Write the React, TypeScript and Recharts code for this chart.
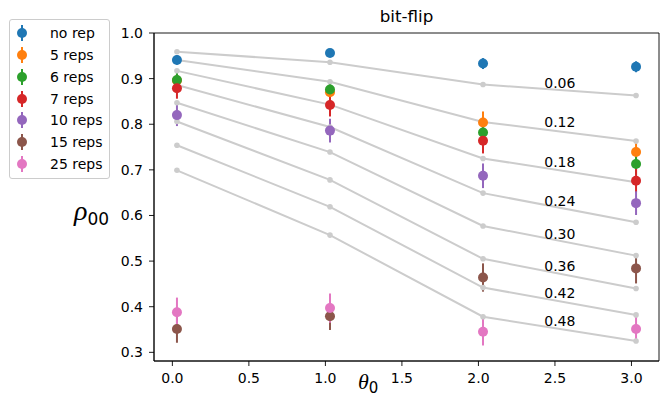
import React from 'react';
import {
    ComposedChart, Scatter, ErrorBar, XAxis, YAxis, ReferenceArea,
} from 'recharts';

// x positions of the measurements (theta_0)
const THETA = [0.03, 1.03, 2.03, 3.03];

// grey reference curves, one per flip probability
const CURVE_LABELS = ['0.06', '0.12', '0.18', '0.24', '0.30', '0.36', '0.42', '0.48'];
const CURVE_VALUES = [
    [0.959, 0.936, 0.887, 0.863],
    [0.941, 0.893, 0.805, 0.763],
    [0.917, 0.843, 0.725, 0.673],
    [0.886, 0.794, 0.649, 0.585],
    [0.847, 0.739, 0.577, 0.512],
    [0.806, 0.678, 0.505, 0.440],
    [0.754, 0.619, 0.442, 0.382],
    [0.699, 0.557, 0.378, 0.325],
];
const CURVE_LABEL_X = 2.43;
const CURVE_LABEL_Y = [0.89, 0.804, 0.717, 0.632, 0.559, 0.49, 0.429, 0.369];

// measured series
const SERIES_NAMES = ['no rep', '5 reps', '6 reps', '7 reps', '10 reps', '15 reps', '25 reps'];
const SERIES_COLORS = ['#1f77b4', '#ff7f0e', '#2ca02c', '#d62728', '#9467bd', '#8c564b', '#e377c2'];
const SERIES_VALUES = [
    [0.941, 0.956, 0.933, 0.926],
    [0.896, 0.870, 0.804, 0.739],
    [0.897, 0.876, 0.782, 0.713],
    [0.879, 0.842, 0.764, 0.676],
    [0.820, 0.786, 0.687, 0.627],
    [0.351, 0.379, 0.464, 0.484],
    [0.388, 0.397, 0.345, 0.351],
];
const SERIES_ERRORS = [
    [0.010, 0.008, 0.012, 0.012],
    [0.018, 0.022, 0.024, 0.028],
    [0.018, 0.019, 0.022, 0.024],
    [0.023, 0.025, 0.028, 0.026],
    [0.024, 0.026, 0.027, 0.026],
    [0.030, 0.030, 0.031, 0.033],
    [0.032, 0.032, 0.030, 0.030],
];

const X_TICKS = [0, 0.5, 1, 1.5, 2, 2.5, 3];
const Y_TICKS = [0.3, 0.4, 0.5, 0.6, 0.7, 0.8, 0.9, 1.0];
const X_DOMAIN: [number, number] = [-0.12, 3.18];
const Y_DOMAIN: [number, number] = [0.281, 1.0];

const FONT = '"DejaVu Sans", sans-serif';
const GREY = '#cccccc';

const tickStyle = { fontSize: 14, fill: '#000', fontFamily: FONT };

export default function App() {
    const curves = CURVE_VALUES.map((vals) => vals.map((y, i) => ({ x: THETA[i], y })));
    const labelPoints = CURVE_LABELS.map((text, i) => ({ x: CURVE_LABEL_X, y: CURVE_LABEL_Y[i], text }));
    const series = SERIES_VALUES.map((vals, s) =>
        vals.map((y, i) => ({ x: THETA[i], y, err: SERIES_ERRORS[s][i] })));

    return (
        <div style={{ position: 'absolute', left: 0, top: 0, width: 667, height: 400, background: '#fff', fontFamily: FONT, overflow: 'hidden' }}>
            <ComposedChart width={667} height={400} margin={{ top: 33, right: 8, left: 114, bottom: 9 }}>
                <XAxis
                    type="number"
                    dataKey="x"
                    domain={X_DOMAIN}
                    ticks={X_TICKS}
                    allowDataOverflow
                    tickFormatter={(v) => Number(v).toFixed(1)}
                    tick={tickStyle}
                    tickSize={5}
                    tickMargin={7}
                    height={30}
                    axisLine={{ stroke: '#000', strokeWidth: 0.9 }}
                    tickLine={{ stroke: '#000', strokeWidth: 0.9 }}
                />
                <YAxis
                    type="number"
                    dataKey="y"
                    domain={Y_DOMAIN}
                    ticks={Y_TICKS}
                    allowDataOverflow
                    tickFormatter={(v) => Number(v).toFixed(1)}
                    tick={tickStyle}
                    tickSize={5}
                    tickMargin={6}
                    width={40}
                    axisLine={{ stroke: '#000', strokeWidth: 0.9 }}
                    tickLine={{ stroke: '#000', strokeWidth: 0.9 }}
                />
                <ReferenceArea
                    x1={X_DOMAIN[0]} x2={X_DOMAIN[1]} y1={Y_DOMAIN[0]} y2={Y_DOMAIN[1]}
                    fill="none" stroke="#000" strokeWidth={0.9} fillOpacity={0}
                />
                {curves.map((pts, i) => (
                    <Scatter
                        key={'c' + i}
                        data={pts}
                        line={{ stroke: GREY, strokeWidth: 2 }}
                        legendType="none"
                        isAnimationActive={false}
                        shape={(p: any) => <circle cx={p.cx} cy={p.cy} r={2.8} fill={GREY} />}
                    />
                ))}
                <Scatter
                    data={labelPoints}
                    legendType="none"
                    isAnimationActive={false}
                    shape={(p: any) => (
                        <text x={p.cx} y={p.cy} dominantBaseline="central" fontSize={14} fontFamily={FONT} fill="#000">
                            {p.payload.text}
                        </text>
                    )}
                />
                {series.map((pts, s) => (
                    <Scatter
                        key={SERIES_NAMES[s]}
                        name={SERIES_NAMES[s]}
                        data={pts}
                        fill={SERIES_COLORS[s]}
                        isAnimationActive={false}
                        shape={(p: any) => <circle cx={p.cx} cy={p.cy} r={5} fill={SERIES_COLORS[s]} />}
                    >
                        <ErrorBar dataKey="err" direction="y" width={0} stroke={SERIES_COLORS[s]} strokeWidth={2} isAnimationActive={false} />
                    </Scatter>
                ))}
            </ComposedChart>

            <div style={{ position: 'absolute', left: 154, width: 505, top: 6, textAlign: 'center', fontSize: 16.7 }}>
                bit-flip
            </div>

            <div style={{ position: 'absolute', left: 74, top: 195, fontFamily: '"Liberation Serif", serif', whiteSpace: 'nowrap' }}>
                <span style={{ fontStyle: 'italic', fontSize: 28 }}>ρ</span>
                <span style={{ fontSize: 17, fontFamily: FONT, position: 'relative', top: 5 }}>00</span>
            </div>

            <div style={{ position: 'absolute', left: 358, top: 370, fontFamily: '"Liberation Serif", serif', whiteSpace: 'nowrap', lineHeight: '24px' }}>
                <span style={{ fontStyle: 'italic', fontSize: 22 }}>θ</span>
                <span style={{ fontSize: 15, fontFamily: FONT, position: 'relative', top: 4 }}>0</span>
            </div>

            <div style={{
                position: 'absolute', left: 9, top: 19, width: 99, height: 158,
                border: '1px solid #cccccc', borderRadius: 3, background: 'rgba(255,255,255,0.8)',
            }}>
                {SERIES_NAMES.map((name, i) => (
                    <div key={name} style={{ position: 'absolute', left: 0, top: 2.7 + i * 21.94, height: 20, width: 99 }}>
                        <svg width={24} height={20} style={{ position: 'absolute', left: 0, top: 0 }}>
                            <line x1={12} x2={12} y1={2} y2={18} stroke={SERIES_COLORS[i]} strokeWidth={2} />
                            <circle cx={12} cy={10} r={5} fill={SERIES_COLORS[i]} />
                        </svg>
                        <span style={{ position: 'absolute', left: 40, top: 1, fontSize: 14, lineHeight: '18px', whiteSpace: 'nowrap' }}>
                            {name}
                        </span>
                    </div>
                ))}
            </div>
        </div>
    );
}
